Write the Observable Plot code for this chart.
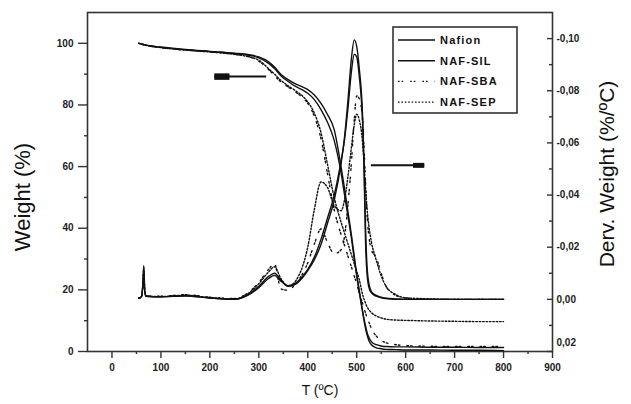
<!DOCTYPE html>
<html><head><meta charset="utf-8">
<script src="https://cdn.jsdelivr.net/npm/d3@7"></script>
<script src="https://cdn.jsdelivr.net/npm/@observablehq/plot@0.6"></script>
<style>
body{margin:0;background:#fff;font-family:"Liberation Sans",Arial,sans-serif}
svg g[aria-label$="tick label"]{font-weight:bold}
</style>
</head><body><div id="chart"></div>
<script>
// ---- data ----
const temps = [55,60,63,65,67,70,100,150,200,250,280,300,320,332,345,360,375,390,400,413,427,440,454,468,475,482,489,495,500,505,512,515,518,521,525,530,540,550,560,580,600,650,700,750,800];
const seriesNames = ["Nafion","NAF-SIL","NAF-SBA","NAF-SEP"];

// Weight (%) — TGA
const tgaNafion = [100,99.8,99.7,99.6,99.5,99.4,98.8,98.0,97.4,96.8,96.3,95.6,94.0,92.3,90.0,88.2,86.8,85.8,85.0,83.3,80.5,77.0,72.0,60.0,53,45.5,38,31,25,20,13,10,7.5,5.5,3.5,2.2,1.2,0.9,0.7,0.6,0.5,0.5,0.4,0.4,0.3];
const tgaSIL    = [100,99.8,99.7,99.6,99.5,99.4,98.7,97.9,97.3,96.7,96.1,95.3,93.5,91.8,89.5,87.6,86.0,84.8,83.8,81.8,78.5,74.5,68.5,58,51,44,37,30,24.5,19.5,13,10.5,8.3,6.3,4.5,3.2,2.2,1.8,1.6,1.5,1.5,1.4,1.4,1.3,1.3];
const tgaSBA    = [100,99.8,99.6,99.5,99.4,99.3,98.6,97.8,97.2,96.5,95.7,94.2,91.5,89.5,87.5,85.8,84.2,82.3,80.5,76.5,69,58,46,38,34.5,31,27.5,24.5,22,19,15.5,14,12.5,11,9.5,7.5,5,3.6,2.8,2.2,1.9,1.7,1.6,1.6,1.6];
const tgaSEP    = [100,99.8,99.6,99.5,99.4,99.3,98.6,97.8,97.2,96.4,95.6,94.5,91.8,90,88,86.2,84.6,82.8,81,77.5,71,61,50,42,38.5,35,31.5,28.5,26,23.5,18.5,17,15.7,14.5,13.5,12.6,11.5,10.9,10.5,10.2,10.1,9.9,9.8,9.7,9.7];

// Derv. Weight (%/ºC) — DTG
const dtgNafion = [-0.0005,-0.001,-0.006,-0.013,-0.003,-0.0012,-0.001,-0.0015,-0.0005,0,-0.002,-0.005,-0.0088,-0.010,-0.0075,-0.005,-0.0058,-0.0085,-0.011,-0.015,-0.021,-0.029,-0.038,-0.052,-0.062,-0.076,-0.092,-0.0995,-0.097,-0.089,-0.070,-0.050,-0.022,-0.010,-0.0045,-0.0025,-0.0012,-0.0006,-0.0003,0,0,0,0,0,0];
const dtgSIL    = [-0.0005,-0.001,-0.005,-0.011,-0.003,-0.0012,-0.001,-0.0013,-0.0005,0,-0.0018,-0.0045,-0.008,-0.0092,-0.007,-0.0052,-0.0062,-0.009,-0.0115,-0.016,-0.023,-0.031,-0.040,-0.053,-0.061,-0.073,-0.087,-0.094,-0.093,-0.086,-0.068,-0.052,-0.028,-0.013,-0.006,-0.003,-0.0015,-0.0008,-0.0004,-0.0002,0,0,0,0,0];
const dtgSBA    = [-0.0005,-0.001,-0.004,-0.010,-0.003,-0.0012,-0.0012,-0.0018,-0.0008,-0.0003,-0.0028,-0.0065,-0.0115,-0.0137,-0.004,-0.0035,-0.006,-0.010,-0.014,-0.021,-0.027,-0.022,-0.0175,-0.019,-0.024,-0.036,-0.052,-0.069,-0.078,-0.077,-0.069,-0.058,-0.045,-0.033,-0.024,-0.019,-0.016,-0.010,-0.005,-0.0015,-0.0005,0,0,0,0];
const dtgSEP    = [-0.0005,-0.001,-0.005,-0.012,-0.003,-0.0012,-0.0011,-0.0016,-0.0007,-0.0002,-0.0025,-0.006,-0.0105,-0.0125,-0.008,-0.005,-0.007,-0.013,-0.020,-0.034,-0.045,-0.043,-0.036,-0.034,-0.038,-0.047,-0.058,-0.067,-0.071,-0.069,-0.060,-0.052,-0.043,-0.035,-0.028,-0.022,-0.015,-0.009,-0.005,-0.0018,-0.0006,-0.0002,0,0,0];

const xTicks = [0,100,200,300,400,500,600,700,800,900];
const xMinor = [50,150,250,350,450,550,650,750,850];
const weightTicks = [0,20,40,60,80,100];
const weightMinor = [10,30,50,70,90];
const dervTicks = [-0.10,-0.08,-0.06,-0.04,-0.02,0.00,0.02];
const dervLabels = [-0.10,-0.08,-0.06,-0.04,-0.02,0.00];
const dervBottomLabel = [0.02];
const dervMinor = [-0.09,-0.07,-0.05,-0.03,-0.01,0.01];

// annotation arrows (T, Weight)
const arrowShafts = [{t1:315,t2:209,w:89.2},{t1:529,t2:638,w:60.4}];
const arrowHeads  = [{t1:240,t2:209,w:89.2,sw:6.5},{t1:615,t2:638,w:60.4,sw:5}];

// ---- build ----
const dtgToW = d3.scaleLinear().domain([0.02,-0.11]).range([0,110]);
const tga = [tgaNafion,tgaSIL,tgaSBA,tgaSEP];
const dtg = [dtgNafion,dtgSIL,dtgSBA,dtgSEP];
const dashes = [null,null,"1.6,2,1.6,7","1.6,1.8"];
const ink = "#111";
const font = "'Liberation Sans', Arial, sans-serif";
const W = 631, mL = 87, mR = 79, frameW = W - mL - mR;

const lineMarks = [];
seriesNames.forEach((name,i)=>{
  const rowsT = temps.map((t,j)=>({T:t,W:tga[i][j]}));
  const rowsD = temps.map((t,j)=>({T:t,W:dtgToW(dtg[i][j])}));
  const opt = {x:"T",y:"W",stroke:ink,strokeWidth:1.4,strokeDasharray:dashes[i],curve:"monotone-x"};
  lineMarks.push(Plot.line(rowsT,opt), Plot.line(rowsD,opt));
});

const fmtD = d => (d<0?"-":"") + Math.abs(d).toFixed(2).replace(".",",");
const tickText = {fontSize:10,fontFamily:font,fill:"#222",letterSpacing:"1px"};
const axisLine = {stroke:"#333",strokeWidth:1.4,label:null};

const svg = Plot.plot({
  width:W, height:404,
  marginLeft:mL, marginRight:mR, marginTop:12, marginBottom:53,
  style:{background:"#fff",fontFamily:font,color:"#222"},
  x:{domain:[-50,900]},
  y:{domain:[0,110]},
  marks:[
    Plot.axisX(xTicks,{tickSize:7,tickPadding:5,...axisLine,...tickText}),
    Plot.axisX(xMinor,{tickSize:3,tickFormat:()=>"",...axisLine}),
    Plot.axisY(weightTicks,{tickSize:9,tickPadding:5,...axisLine,...tickText}),
    Plot.axisY(weightMinor,{tickSize:3,tickFormat:()=>"",...axisLine}),
    // right axis: ticks pointing inward, labels outside
    Plot.axisY(dervTicks,{y:dtgToW,anchor:"left",dx:frameW,tickSize:5,tickFormat:()=>"",...axisLine}),
    Plot.axisY(dervMinor,{y:dtgToW,anchor:"left",dx:frameW,tickSize:3,tickFormat:()=>"",...axisLine}),
    Plot.axisY(dervLabels,{y:dtgToW,anchor:"right",tickSize:0,tickPadding:4,tickFormat:fmtD,...axisLine,...tickText}),
    Plot.axisY(dervBottomLabel,{y:dtgToW,anchor:"right",tickSize:0,tickPadding:4,dy:-9,tickFormat:fmtD,...axisLine,...tickText}),
    Plot.frame({stroke:"#333",strokeWidth:1.6}),
    ...lineMarks,
    Plot.link(arrowShafts,{x1:"t1",x2:"t2",y1:"w",y2:"w",stroke:ink,strokeWidth:2}),
    Plot.link(arrowHeads,{x1:"t1",x2:"t2",y1:"w",y2:"w",stroke:ink,strokeWidth:d=>d.sw}),
    Plot.text(["Weight (%)"],{frameAnchor:"left",textAnchor:"middle",dx:-65,dy:15,rotate:-90,fontSize:22,fontFamily:font,fill:"#111"}),
    Plot.text(["Derv. Weight (%/ºC)"],{frameAnchor:"right",textAnchor:"middle",dx:55,dy:-8,rotate:-90,fontSize:21,fontFamily:font,fill:"#111"}),
    Plot.text(["T (ºC)"],{frameAnchor:"bottom",textAnchor:"middle",dy:43,fontSize:14,fontFamily:font,fill:"#111"})
  ]
});
document.getElementById("chart").appendChild(svg);

// legend box inside the frame
const lg = d3.select(svg).append("g").attr("font-family",font).attr("text-anchor","start");
lg.append("rect").attr("x",393).attr("y",27).attr("width",124).attr("height",86)
  .attr("fill","#fff").attr("stroke","#333").attr("stroke-width",1.6);
seriesNames.forEach((name,i)=>{
  const y = 40 + i*20.7;
  lg.append("line").attr("x1",398).attr("x2",435).attr("y1",y).attr("y2",y)
    .attr("stroke",ink).attr("stroke-width",1.4).attr("stroke-dasharray",dashes[i]);
  lg.append("text").attr("x",440).attr("y",y).attr("dy","0.35em").attr("text-anchor","start")
    .attr("font-size",11).attr("font-weight","bold").attr("letter-spacing","1.2px")
    .attr("fill","#111").text(name);
});
</script>
</body></html>
